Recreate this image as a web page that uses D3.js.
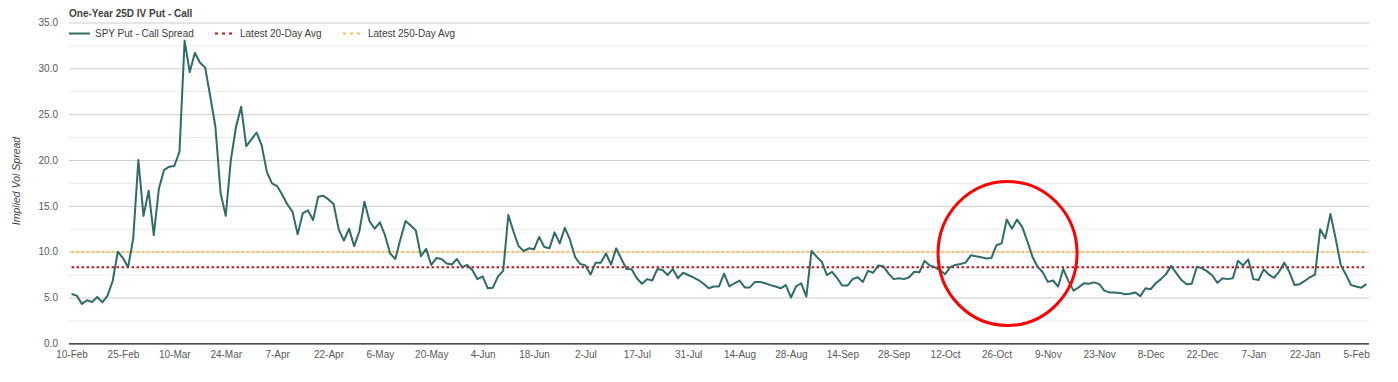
<!DOCTYPE html>
<html><head><meta charset="utf-8">
<script src="https://cdn.jsdelivr.net/npm/d3@7"></script>
<style>
body{margin:0;background:#fff;}
svg{display:block;font-family:"Liberation Sans",Arial,sans-serif;}
</style>
</head><body>
<svg id="chart" width="1398" height="382"></svg>
<script>
// ---- data ----
const seriesName = "SPY Put - Call Spread";
const spread = [
5.38,5.2,4.3,4.7,4.5,5.05,4.47,5.2,6.8,10.0,
9.3,8.3,11.45,20.0,13.9,16.65,11.8,16.9,18.9,19.27,
19.35,20.9,33.0,29.6,31.7,30.6,30.1,26.9,23.6,16.4,
13.9,20.0,23.6,25.8,21.5,22.25,23.0,21.6,18.7,17.45,
17.15,16.2,15.15,14.35,11.9,14.2,14.5,13.45,16.0,16.1,
15.7,15.2,12.4,11.2,12.5,10.6,12.2,15.45,13.3,12.5,
13.2,11.8,9.8,9.2,11.35,13.35,12.85,12.3,9.5,10.3,
8.55,9.3,9.2,8.7,8.6,9.2,8.3,8.55,8.0,7.0,
7.3,6.0,6.07,7.3,7.9,14.0,12.2,10.6,10.07,10.36,
10.25,11.6,10.5,10.36,12.1,10.9,12.6,11.3,9.4,8.65,
8.5,7.5,8.8,8.8,9.8,8.6,10.36,9.2,8.1,8.07,
7.1,6.5,7.0,6.85,8.1,8.0,7.45,8.1,7.1,7.7,
7.45,7.2,6.9,6.5,6.0,6.2,6.2,7.6,6.2,6.55,
6.85,6.1,6.1,6.7,6.7,6.55,6.35,6.2,6.0,6.35,
5.0,6.2,6.55,5.1,10.07,9.45,8.9,7.45,7.8,7.1,
6.3,6.3,7.0,7.2,6.7,7.9,7.7,8.5,8.4,7.6,
7.0,7.1,7.0,7.2,7.8,7.75,9.0,8.5,8.3,7.95,
7.55,8.3,8.55,8.65,8.8,9.6,9.5,9.4,9.25,9.3,
10.7,10.9,13.5,12.5,13.5,12.7,11.15,9.45,8.35,7.75,
6.7,6.85,6.2,8.1,6.8,5.75,6.1,6.55,6.5,6.65,
6.45,5.75,5.55,5.55,5.5,5.35,5.4,5.55,5.15,6.0,
5.9,6.55,7.0,7.55,8.45,7.65,6.9,6.45,6.5,8.35,
8.2,7.85,7.4,6.6,7.1,7.0,7.1,9.0,8.5,9.15,
7.0,6.9,8.07,7.5,7.15,7.8,8.8,7.8,6.35,6.45,
6.8,7.2,7.5,12.45,11.45,14.1,11.45,8.55,7.5,6.35,
6.2,6.07,6.45
];
const avg20Name = "Latest 20-Day Avg";
const avg20 = 8.3;
const avg250Name = "Latest 250-Day Avg";
const avg250 = 10.0;
const tickLabels = ["10-Feb","25-Feb","10-Mar","24-Mar","7-Apr","22-Apr","6-May","20-May","4-Jun","18-Jun","2-Jul","17-Jul","31-Jul","14-Aug","28-Aug","14-Sep","28-Sep","12-Oct","26-Oct","9-Nov","23-Nov","8-Dec","22-Dec","7-Jan","22-Jan","5-Feb"];
const labelEvery = 10;
const yMajor = [0,5,10,15,20,25,30,35];
const yMinor = [2.5,7.5,12.5,17.5,22.5,27.5,32.5];
const highlightIndex = 182; // circled late-October spike
const highlightLevel = 9.8;

// ---- layout ----
const svg = d3.select("#chart");
const L = 69, R = 1369, T = 22.5, B = 343.3;
const idx = d3.range(spread.length);
const x = d3.scalePoint().domain(idx).range([L, R]).padding(0.5);
const y = d3.scaleLinear().domain([0, 35]).range([B, T]);

// minor gridlines
svg.append("g").attr("transform", `translate(${L},0)`)
  .call(d3.axisLeft(y).tickValues(yMinor).tickSize(-(R - L)).tickFormat(""))
  .call(g => g.select(".domain").remove())
  .call(g => g.selectAll("line").attr("stroke", "#ebebeb").attr("stroke-width", 1));
// major gridlines
svg.append("g").attr("transform", `translate(${L},0)`)
  .call(d3.axisLeft(y).tickValues(yMajor.filter(v => v > 0)).tickSize(-(R - L)).tickFormat(""))
  .call(g => g.select(".domain").remove())
  .call(g => g.selectAll("line").attr("stroke", "#cccccc").attr("stroke-width", 1));

// y tick labels
svg.append("g").attr("transform", `translate(${L},0)`)
  .call(d3.axisLeft(y).tickValues(yMajor).tickSize(0).tickPadding(11).tickFormat(d3.format(".1f")))
  .call(g => g.select(".domain").remove())
  .call(g => g.selectAll("text").attr("fill", "#595959").attr("font-size", "10px")
      .attr("font-family", "'Liberation Sans',Arial,sans-serif"));

// x axis
const xTickVals = tickLabels.map((d, i) => i * labelEvery);
svg.append("g").attr("transform", `translate(0,${B})`)
  .call(d3.axisBottom(x).tickValues(xTickVals).tickSize(0).tickPadding(8)
    .tickFormat(d => tickLabels[d / labelEvery]))
  .call(g => g.select(".domain").attr("d", `M${L},0.5H${R}`).attr("stroke", "#1a1a1a").attr("stroke-width", 1.3))
  .call(g => g.selectAll("text").attr("fill", "#595959").attr("font-size", "10px")
      .attr("font-family", "'Liberation Sans',Arial,sans-serif"));

// average lines
const first = x(0), last = x(spread.length - 1);
svg.append("line").attr("x1", first).attr("x2", last).attr("y1", y(avg250)).attr("y2", y(avg250))
  .attr("stroke", "#fbc35a").attr("stroke-width", 2).attr("stroke-dasharray", "2.5,2.5");
svg.append("line").attr("x1", first).attr("x2", last).attr("y1", y(avg20)).attr("y2", y(avg20))
  .attr("stroke", "#b81414").attr("stroke-width", 2).attr("stroke-dasharray", "2.5,2.5");

// main line
svg.append("path").datum(spread)
  .attr("fill", "none").attr("stroke", "#306b68").attr("stroke-width", 2)
  .attr("stroke-linejoin", "round")
  .attr("d", d3.line().x((d, i) => x(i)).y(d => y(d)));

// highlight circle
svg.append("ellipse")
  .attr("cx", x(highlightIndex) + 0.8).attr("cy", y(highlightLevel)).attr("rx", 69.5).attr("ry", 72)
  .attr("fill", "none").attr("stroke", "#ff0000").attr("stroke-width", 3);

// title
svg.append("text").attr("x", L).attr("y", 17).text("One-Year 25D IV Put - Call")
  .attr("font-size", "10px").attr("font-weight", "bold").attr("fill", "#404040");

// y axis title
svg.append("text").attr("transform", `translate(20,181) rotate(-90)`)
  .attr("text-anchor", "middle").attr("font-size", "10.5px").attr("font-style", "italic")
  .attr("fill", "#404040").text("Implied Vol Spread");

// legend
const legend = svg.append("g").attr("transform", "translate(0,33.5)");
const items = [
  {name: seriesName, x: 69, w: 21, color: "#306b68", dash: null, tx: 95},
  {name: avg20Name, x: 215, w: 18, color: "#b81414", dash: "3,4", tx: 240},
  {name: avg250Name, x: 343, w: 18, color: "#fbc35a", dash: "3,4", tx: 368}
];
items.forEach(it => {
  legend.append("line").attr("x1", it.x).attr("x2", it.x + it.w).attr("y1", 0).attr("y2", 0)
    .attr("stroke", it.color).attr("stroke-width", 2).attr("stroke-dasharray", it.dash);
  legend.append("text").attr("x", it.tx).attr("y", 0).attr("dy", "0.35em")
    .attr("font-size", "10px").attr("fill", "#404040").text(it.name);
});
</script>
</body></html>
